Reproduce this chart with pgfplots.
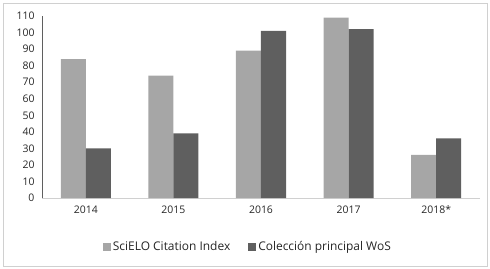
\documentclass[border=0pt]{standalone}
\usepackage{pgfplots}
\pgfplotsset{compat=1.18}
\usepackage{fontspec}
\setmainfont{Open Sans}
\definecolor{lightbar}{HTML}{A6A6A6}
\definecolor{darkbar}{HTML}{5F5F5F}
\definecolor{framec}{HTML}{D0D0D0}
\begin{document}
\begin{tikzpicture}
\useasboundingbox (-42bp,-71bp) rectangle (448bp,198bp);
\draw[framec, line width=0.8bp] (-39bp,-68bp) rectangle (445bp,195bp);
\begin{axis}[
  at={(0,0)}, anchor=south west,
  scale only axis,
  width=438bp, height=182bp,
  ybar, bar width=25bp,
  xmin=-0.5, xmax=4.5,
  ymin=0, ymax=110,
  ytick={0,10,...,110},
  xtick={0,1,2,3,4},
  xticklabels={2014,2015,2016,2017,2018*},
  axis x line*=bottom, axis y line*=left,
  x axis line style={framec, line width=1bp, -},
  y axis line style={darkbar, line width=0.8bp, -},
  major tick length=0pt,
  tick label style={font=\fontsize{10.5}{12}\selectfont, text=black!85},
  /pgf/number format/assume math mode=true,
  xticklabel style={yshift=-4bp},
  yticklabel style={xshift=-4bp},
  legend style={at={(0.47,-0.269)}, anchor=center, draw=none, legend columns=2,
    font=\fontsize{12}{14}\selectfont, text=black!85,
    /tikz/every even column/.append style={column sep=16bp},
    /tikz/every odd column/.append style={inner xsep=1bp}},
  legend image code/.code={\fill[#1] (0bp,-4bp) rectangle (8bp,4bp);},
]
\addplot[fill=lightbar, draw=none, bar shift=-12.5bp] coordinates {(0,84) (1,74) (2,89) (3,109) (4,26)};
\addplot[fill=darkbar, draw=none, bar shift=12.5bp] coordinates {(0,30) (1,39) (2,101) (3,102) (4,36)};
\legend{SciELO Citation Index, Colección principal WoS}
\end{axis}
\end{tikzpicture}
\end{document}
